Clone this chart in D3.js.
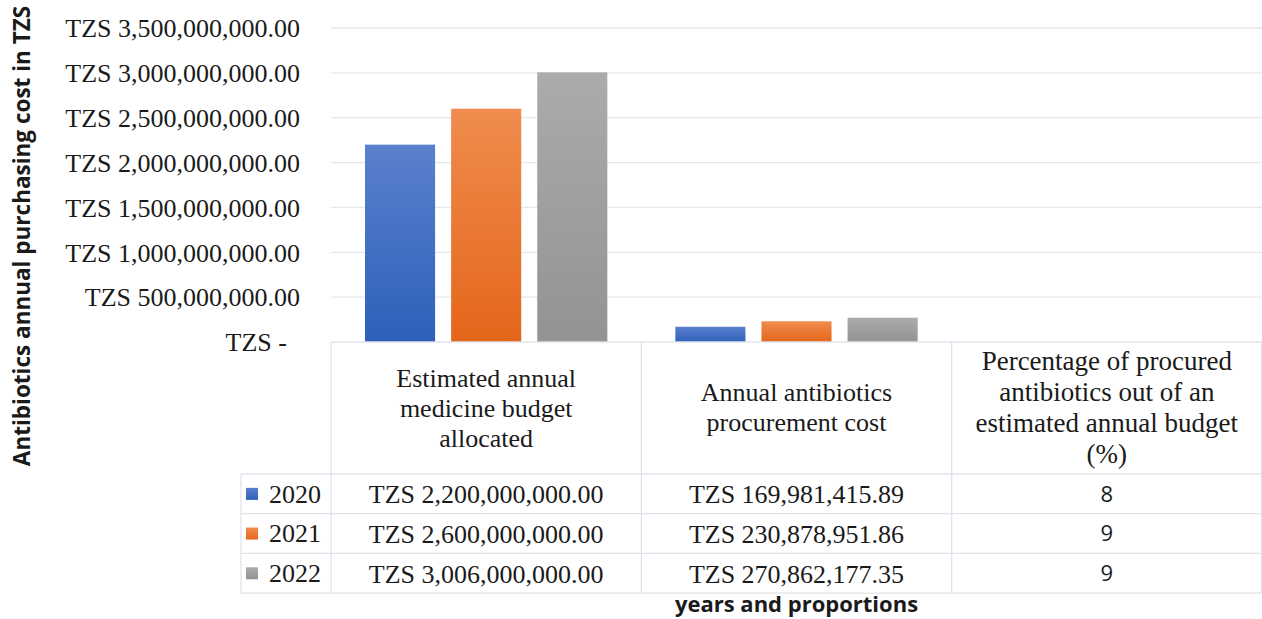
<!DOCTYPE html>
<html lang="en">
<head>
<meta charset="utf-8">
<title>Antibiotics annual purchasing cost</title>
<style>
  body { margin: 0; background: #fff; }
</style>
</head>
<body>
<script src="https://d3js.org/d3.v7.min.js"></script>
<script>
// data
var categories = [
  ["Estimated annual", "medicine budget", "allocated"],
  ["Annual antibiotics", "procurement cost"],
  ["Percentage of procured", "antibiotics out of an", "estimated annual budget", "(%)"]
];
var years = ["2020", "2021", "2022"];
var budget = [2200000000, 2600000000, 3006000000];
var procurement = [169981415.89, 230878951.86, 270862177.35];
var percent = [8, 9, 9];
var budgetLabels = ["TZS 2,200,000,000.00", "TZS 2,600,000,000.00", "TZS 3,006,000,000.00"];
var procurementLabels = ["TZS 169,981,415.89", "TZS 230,878,951.86", "TZS 270,862,177.35"];
var percentLabels = ["8", "9", "9"];
var yTicks = [0, 500000000, 1000000000, 1500000000, 2000000000, 2500000000, 3000000000, 3500000000];

var colors = {
  "2020": ["#5b80cd", "#2d60ba"],
  "2021": ["#f08c4e", "#e4661a"],
  "2022": ["#ababab", "#939393"]
};

var serif = "'Liberation Serif', 'Times New Roman', 'DejaVu Serif', serif";
var sans = "'Open Sans', 'DejaVu Sans', sans-serif";
var ink = "#1a1a1a";
var fs = 26;

var W = 1262, H = 619;
var plot = {left: 331, right: 1262, top: 28, bottom: 342};
var tableLeft = 241, headerBottom = 474, rowH = 39.7;

var svg = d3.select("body").append("svg")
    .attr("width", W).attr("height", H);

var defs = svg.append("defs");
years.forEach(function(y) {
  var g = defs.append("linearGradient").attr("id", "g" + y)
      .attr("x1", 0).attr("y1", 0).attr("x2", 0).attr("y2", 1);
  g.append("stop").attr("offset", "0%").attr("stop-color", colors[y][0]);
  g.append("stop").attr("offset", "100%").attr("stop-color", colors[y][1]);
});

var x0 = d3.scaleBand().domain(d3.range(categories.length))
    .range([plot.left, plot.right]).padding(0);
var x1 = d3.scaleBand().domain(years)
    .range([34, x0.bandwidth() - 34]).paddingInner(0.186);
var y = d3.scaleLinear().domain([0, 3500000000]).range([plot.bottom, plot.top]);

// gridlines
svg.append("g")
  .selectAll("line").data(yTicks.slice(1)).join("line")
    .attr("x1", plot.left).attr("x2", plot.right)
    .attr("y1", d => y(d)).attr("y2", d => y(d))
    .attr("stroke", "#e3e7ee").attr("stroke-width", 1.3);

// y axis
var yAxis = svg.append("g")
    .attr("transform", "translate(" + (plot.left - 31) + ",0)")
    .call(d3.axisLeft(y).tickValues(yTicks).tickSize(0).tickPadding(0)
      .tickFormat(d => d === 0 ? "TZS -" : "TZS " + d3.format(",.2f")(d)));
yAxis.attr("font-family", serif).attr("font-size", fs);
yAxis.select(".domain").remove();
yAxis.selectAll("text").attr("fill", ink).attr("dy", "0.34em")
    .attr("dx", d => d === 0 ? -13 : 0);

// bars
var series = [budget, procurement, percent];
var groups = svg.append("g").selectAll("g").data(series).join("g")
    .attr("transform", (d, i) => "translate(" + x0(i) + ",0)");
groups.selectAll("rect").data(d => d.map((v, j) => ({v: v, year: years[j]}))).join("rect")
    .attr("x", d => x1(d.year))
    .attr("width", x1.bandwidth())
    .attr("y", d => y(d.v))
    .attr("height", d => y(0) - y(d.v))
    .attr("fill", d => "url(#g" + d.year + ")");

// data table
var grid = svg.append("g").attr("stroke", "#dfe3ec").attr("stroke-width", 1.3);
var tableBottom = headerBottom + rowH * years.length;
grid.append("line").attr("x1", plot.left).attr("x2", plot.right)
    .attr("y1", plot.bottom).attr("y2", plot.bottom);
d3.range(years.length + 1).forEach(function(i) {
  var yy = headerBottom + rowH * i;
  grid.append("line").attr("x1", tableLeft).attr("x2", plot.right).attr("y1", yy).attr("y2", yy);
});
grid.append("line").attr("x1", tableLeft).attr("x2", tableLeft)
    .attr("y1", headerBottom).attr("y2", tableBottom);
d3.range(categories.length + 1).forEach(function(i) {
  var xx = i === categories.length ? plot.right - 0.7 : x0(i);
  grid.append("line").attr("x1", xx).attr("x2", xx).attr("y1", plot.bottom).attr("y2", tableBottom);
});

// header text
var lineGap = [30, 30, 31];
var headTop = [378, 392, 361];
categories.forEach(function(lines, i) {
  var t = svg.append("text").attr("font-family", serif).attr("font-size", i === 2 ? 27 : 26)
      .attr("fill", ink).attr("text-anchor", "middle");
  lines.forEach(function(l, k) {
    t.append("tspan").attr("x", x0(i) + x0.bandwidth() / 2)
        .attr("y", headTop[i] + k * lineGap[i]).attr("dy", "0.34em").text(l);
  });
});

// rows
var rowLabels = [budgetLabels, procurementLabels, percentLabels];
years.forEach(function(yr, r) {
  var cy = headerBottom + rowH * r + rowH / 2;
  svg.append("rect").attr("x", 246).attr("y", cy - 6).attr("width", 12).attr("height", 12)
      .attr("fill", "url(#g" + yr + ")");
  svg.append("text").attr("font-family", serif).attr("font-size", fs).attr("fill", ink)
      .attr("x", 295).attr("y", cy).attr("dy", "0.34em").attr("text-anchor", "middle").text(yr);
  rowLabels.forEach(function(labels, i) {
    var t = svg.append("text")
        .attr("x", x0(i) + x0.bandwidth() / 2).attr("y", cy).attr("dy", "0.36em")
        .attr("text-anchor", "middle").attr("fill", ink).text(labels[r]);
    if (i === 2) {
      t.attr("font-family", sans).attr("font-size", 22);
    } else {
      t.attr("font-family", serif).attr("font-size", fs);
    }
  });
});

// axis titles
svg.append("text").attr("font-family", sans).attr("font-weight", "bold").attr("font-size", 22)
    .attr("fill", ink)
    .attr("x", x0(1) + x0.bandwidth() / 2).attr("y", 604).attr("dy", "0.36em")
    .attr("text-anchor", "middle").text("years and proportions");
svg.append("text").attr("font-family", sans).attr("font-weight", "bold").attr("font-size", 22.5)
    .attr("fill", ink)
    .attr("transform", "translate(22,236) rotate(-90)").attr("dy", "0.36em")
    .attr("text-anchor", "middle").text("Antibiotics annual purchasing cost in TZS");
</script>
</body>
</html>
